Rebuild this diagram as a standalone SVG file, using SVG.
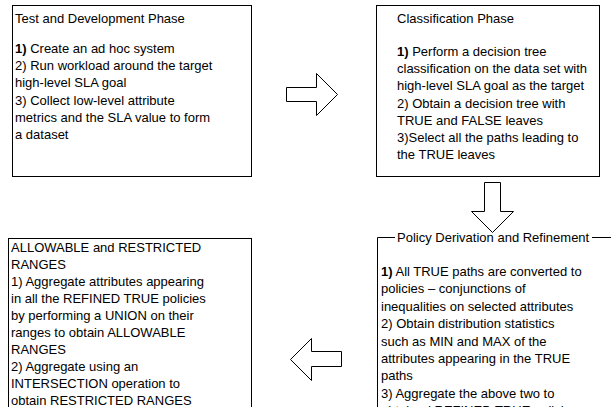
<svg xmlns="http://www.w3.org/2000/svg" width="611" height="407" viewBox="0 0 611 407">
<style>
.box{fill:#fff;stroke:#000;stroke-width:1}
.ln{fill:none;stroke:#000;stroke-width:1}
.t{font-family:"Liberation Sans",Arial,sans-serif;font-size:13px;fill:#000}
.b{font-weight:bold}
.arr{fill:#fff;stroke:#000;stroke-width:1;stroke-linejoin:miter}
</style>
<rect width="611" height="407" fill="#fff"/>
<g id="test-development">
<rect class="box" x="12.5" y="5.5" width="239" height="171"/>
<text class="t" x="15" y="23">Test and Development Phase</text>
<text class="t" x="15" y="53"><tspan x="15"><tspan class="b">1)</tspan> Create an ad hoc system</tspan><tspan x="15" dy="17.2">2) Run workload around the target</tspan><tspan x="15" dy="17.2">high-level SLA goal</tspan><tspan x="15" dy="17.2">3) Collect low-level attribute</tspan><tspan x="15" dy="17.2">metrics and the SLA value to form</tspan><tspan x="15" dy="17.2">a dataset</tspan></text>
</g>
<g id="classification">
<rect class="box" x="376.5" y="5.5" width="223" height="171"/>
<text class="t" x="397" y="23">Classification Phase</text>
<text class="t" x="397" y="56"><tspan x="397"><tspan class="b">1)</tspan> Perform a decision tree</tspan><tspan x="397" dy="17.2">classification on the data set with</tspan><tspan x="397" dy="17.2">high-level SLA goal as the target</tspan><tspan x="397" dy="17.2">2) Obtain a decision tree with</tspan><tspan x="397" dy="17.2">TRUE and FALSE leaves</tspan><tspan x="397" dy="17.2">3)Select all the paths leading to</tspan><tspan x="397" dy="17.2">the TRUE leaves</tspan></text>
</g>
<g id="policy-derivation">
<path class="ln" d="M395,237.5 H377.5 V420 M592,237.5 H611"/>
<text class="t" x="397" y="242">Policy Derivation and Refinement</text>
<text class="t" x="381" y="276"><tspan x="381"><tspan class="b">1)</tspan> All TRUE paths are converted to</tspan><tspan x="381" dy="17.4">policies – conjunctions of</tspan><tspan x="381" dy="17.4">inequalities on selected attributes</tspan><tspan x="381" dy="17.4">2) Obtain distribution statistics</tspan><tspan x="381" dy="17.4">such as MIN and MAX of the</tspan><tspan x="381" dy="17.4">attributes appearing in the TRUE</tspan><tspan x="381" dy="17.4">paths</tspan><tspan x="381" dy="17.4">3) Aggregate the above two to</tspan><tspan x="381" dy="17.4">obtained REFINED TRUE policies</tspan></text>
</g>
<g id="allowable-restricted">
<rect class="box" x="8.5" y="238.5" width="243" height="190"/>
<text class="t" x="11" y="252"><tspan x="11">ALLOWABLE  and RESTRICTED</tspan><tspan x="11" dy="17">RANGES</tspan><tspan x="11" dy="17">1) Aggregate attributes appearing</tspan><tspan x="11" dy="17">in all the REFINED TRUE policies</tspan><tspan x="11" dy="17">by performing a UNION on their</tspan><tspan x="11" dy="17">ranges to obtain ALLOWABLE</tspan><tspan x="11" dy="17">RANGES</tspan><tspan x="11" dy="17">2) Aggregate using an</tspan><tspan x="11" dy="17">INTERSECTION operation to</tspan><tspan x="11" dy="17">obtain RESTRICTED RANGES</tspan></text>
</g>
<g id="connectors">
<polygon class="arr" points="286.5,87.5 316.5,87.5 316.5,73.5 337.5,94.5 316.5,115.5 316.5,101.5 286.5,101.5"/>
<polygon class="arr" points="484.5,182.5 500.5,182.5 500.5,211.5 513.5,211.5 492.5,232.5 471.5,211.5 484.5,211.5"/>
<polygon class="arr" points="341.5,351.5 311.5,351.5 311.5,338.5 290.5,359.5 311.5,380.5 311.5,366.5 341.5,366.5"/>
</g>
</svg>
